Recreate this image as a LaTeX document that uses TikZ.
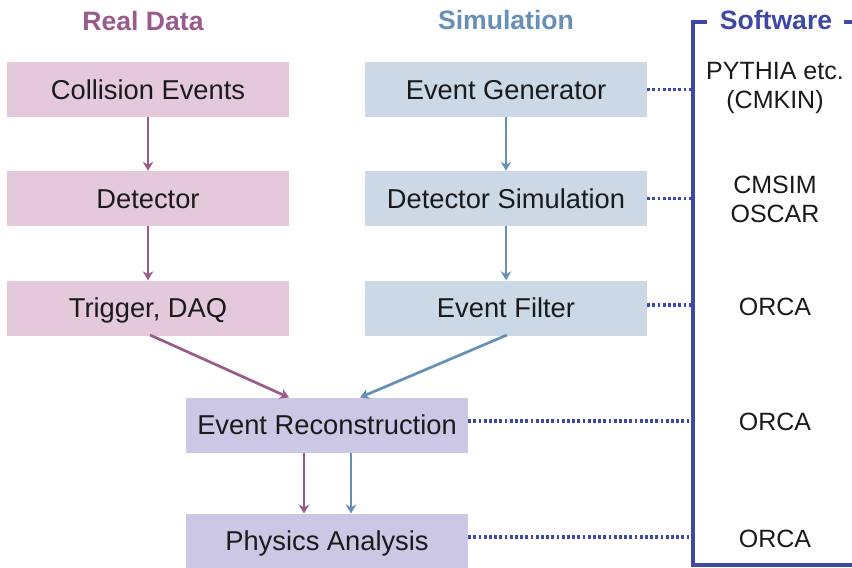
\documentclass[tikz,border=0pt]{standalone}
\usepackage{fontspec}
\setmainfont{Liberation Sans}
\usetikzlibrary{arrows.meta}
\definecolor{realc}{HTML}{9A5A8B}
\definecolor{realf}{HTML}{E3C9DB}
\definecolor{simc}{HTML}{6790B8}
\definecolor{simf}{HTML}{CBD8E6}
\definecolor{recf}{HTML}{CCC7E5}
\definecolor{softc}{HTML}{3E49A6}
\definecolor{txt}{HTML}{1A1A1A}
\begin{document}
\begin{tikzpicture}[x=1pt,y=-1pt,
  box/.style={minimum width=282pt,minimum height=55pt,inner sep=0pt,text=txt,
    text height=19.5pt,text depth=0pt,font=\fontsize{27.3}{31}\selectfont},
  realbox/.style={box,fill=realf},
  simbox/.style={box,fill=simf},
  recbox/.style={box,fill=recf},
  title/.style={font=\fontsize{26.6}{30}\selectfont\bfseries},
  soft/.style={font=\fontsize{25}{29}\selectfont,align=center,text=txt},
  realarr/.style={draw=realc,line width=2.7pt,-{Stealth[length=9pt,width=10.5pt]}},
  simarr/.style={draw=simc,line width=2.7pt,-{Stealth[length=9pt,width=10.5pt]}},
  dots/.style={draw=softc,line width=3.2pt,dash pattern=on 2.8pt off 2.4pt},
  bracket/.style={draw=softc,line width=3.1pt}
]
\useasboundingbox (0,0) rectangle (852,568);
% titles
\node[title,text=realc] (tr) at (143,21) {Real Data};
\node[title,text=simc] (ts) at (506,20) {Simulation};
\node[title,text=softc] (tsw) at (776,20) {Software};
% boxes
\node[realbox] (ce) at (148,89.5) {Collision Events};
\node[realbox] (de) at (148,198.5) {Detector};
\node[realbox] (tg) at (148,308) {Trigger, DAQ};
\node[simbox] (eg) at (506,89.5) {Event Generator};
\node[simbox] (ds) at (506,198.5) {Detector Simulation};
\node[simbox] (ef) at (506,308) {Event Filter};
\node[recbox] (rc) at (327,425) {Event Reconstruction};
\node[recbox] (pa) at (327,541) {Physics Analysis};
% arrows
\draw[realarr] (ce) -- (de);
\draw[realarr] (de) -- (tg);
\draw[simarr] (eg) -- (ds);
\draw[simarr] (ds) -- (ef);
\coordinate (t1) at (150,335);
\coordinate (t2) at (289,397.5);
\draw[realarr] (t1) -- (t2);
\coordinate (f1) at (507,335);
\coordinate (f2) at (360,397.5);
\draw[simarr] (f1) -- (f2);
\coordinate (r1) at (304,452.5);
\coordinate (r2) at (304,513.5);
\draw[realarr] (r1) -- (r2);
\coordinate (r3) at (351,452.5);
\coordinate (r4) at (351,513.5);
\draw[simarr] (r3) -- (r4);
% software bracket
\coordinate (bt) at (693,22);
\coordinate (bb) at (693,565);
\coordinate (br) at (852,565);
\coordinate (bt2) at (707,22);
\coordinate (bt3) at (844,22);
\coordinate (bt4) at (852,22);
\draw[bracket] (bt2) -- (bt) -- (bb) -- (br);
\draw[bracket] (bt3) -- (bt4);
% software labels
\node[soft] (s1) at (775,87.5) {PYTHIA etc.\\(CMKIN)};
\node[soft] (s2) at (775,199.5) {CMSIM\\OSCAR};
\node[soft] (s3) at (775,307) {ORCA};
\node[soft] (s4) at (775,422) {ORCA};
\node[soft] (s5) at (775,539) {ORCA};
% dotted links
\coordinate (d1) at (693,89.5);
\coordinate (d2) at (693,198.5);
\coordinate (d3) at (693,305);
\coordinate (d4) at (693,421);
\coordinate (d5) at (693,537);
\draw[dots] (eg.east |- d1) -- (d1);
\draw[dots] (ds.east |- d2) -- (d2);
\draw[dots] (ef.east |- d3) -- (d3);
\draw[dots] (rc.east |- d4) -- (d4);
\draw[dots] (pa.east |- d5) -- (d5);
\end{tikzpicture}
\end{document}
